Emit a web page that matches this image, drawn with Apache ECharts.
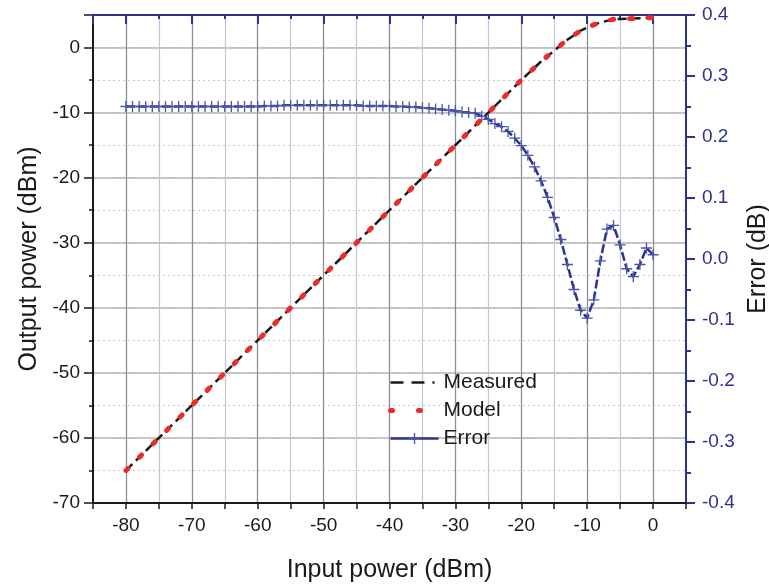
<!DOCTYPE html>
<html>
<head>
<meta charset="utf-8">
<script src="https://cdn.jsdelivr.net/npm/echarts@6/dist/echarts.min.js"></script>
<style>
  html, body { margin: 0; padding: 0; background: #fff; overflow: hidden; }
  #chart { width: 769px; height: 585px; }
</style>
</head>
<body>
<div id="chart"></div>
<script>
// Input power (dBm), 1 dB steps
const inputPower = [
  -80,-79,-78,-77,-76,-75,-74,-73,-72,-71,-70,-69,-68,-67,-66,-65,-64,-63,-62,-61,
  -60,-59,-58,-57,-56,-55,-54,-53,-52,-51,-50,-49,-48,-47,-46,-45,-44,-43,-42,-41,
  -40,-39,-38,-37,-36,-35,-34,-33,-32,-31,-30,-29,-28,-27,-26,-25,-24,-23,-22,-21,
  -20,-19,-18,-17,-16,-15,-14,-13,-12,-11,-10,-9,-8,-7,-6,-5,-4,-3,-2,-1,0
];
// Measured output power (dBm)
const measured = [
  -65,-64,-63,-62,-61,-60,-59,-58,-57,-56,-55,-54,-53,-52,-51,-50,-49,-48,-47,-46,
  -45,-44,-43,-42,-41,-40,-39,-38,-37,-36,-35,-34,-33,-32,-31,-30,-29,-28,-27,-26,
  -25,-24,-23,-22,-21,-20,-19,-18,-17,-16,-15,-14,-13,-12,-11,-10,-9,-8,-7,-6,
  -5.0,-4.05,-3.1,-2.15,-1.3,-0.5,0.4,1.2,1.9,2.6,3.05,3.5,3.85,4.1,4.35,4.4,4.42,4.45,4.5,4.55,4.6
];
// Model output power (dBm)
const model = [
  -65,-64,-63,-62,-61,-60,-59,-58,-57,-56,-55,-54,-53,-52,-51,-50,-49,-48,-47,-46,
  -45,-44,-43,-42,-41,-40,-39,-38,-37,-36,-35,-34,-33,-32,-31,-30,-29,-28,-27,-26,
  -25,-24,-23,-22,-21,-20,-19,-18,-17,-16,-15,-14,-13,-12,-11,-10,-9,-8,-7,-6,
  -5.0,-4.05,-3.1,-2.15,-1.3,-0.5,0.4,1.2,1.9,2.6,3.05,3.5,3.85,4.1,4.35,4.4,4.42,4.45,4.5,4.55,4.6
];
// Error (dB)
const errorDb = [
  0.250,0.250,0.250,0.250,0.250,0.250,0.250,0.250,0.250,0.250,0.250,0.250,0.250,0.250,0.250,0.250,0.250,0.250,0.250,0.250,
  0.250,0.251,0.251,0.251,0.252,0.252,0.252,0.252,0.252,0.252,0.252,0.252,0.252,0.252,0.252,0.252,0.251,0.251,0.251,0.251,
  0.251,0.250,0.250,0.249,0.249,0.248,0.247,0.246,0.245,0.244,0.243,0.241,0.240,0.239,0.234,0.229,0.222,0.217,0.209,0.198,
  0.186,0.170,0.151,0.128,0.101,0.068,0.032,-0.009,-0.050,-0.084,-0.097,-0.067,-0.003,0.049,0.055,0.023,-0.016,-0.029,-0.009,0.018,0.007
];
const seriesNames = ['Measured', 'Model', 'Error'];

const FONT = 'Liberation Sans, Arial, Helvetica, sans-serif';
const BLUE = '#2e3192';
const pairs = (xs, ys) => xs.map((x, i) => [x, ys[i]]);
const plusPath = 'path://M4.85,0H6.15V4.85H11V6.15H6.15V11H4.85V6.15H0V4.85H4.85Z';

const chart = echarts.init(document.getElementById('chart'), null, { renderer: 'canvas', width: 769, height: 585 });
const hideEdgeX = v => (v < -80 || v > 0) ? '' : String(v);
const hideEdgeY = v => (v > 0) ? '' : String(v);

const option = {
  backgroundColor: '#ffffff',
  animation: false,
  grid: { left: 93, right: 83, top: 15, bottom: 82, containLabel: false, outerBoundsMode: 'none' },
  legend: {
    orient: 'vertical',
    left: 383, top: 367,
    itemWidth: 48, itemHeight: 14, itemGap: 7,
    textStyle: { fontFamily: FONT, fontSize: 21, color: '#1a1a1a' },
    data: [
      { name: seriesNames[0], itemStyle: { opacity: 0 }, lineStyle: { color: '#1a1a1a', width: 2.5, type: [13, 8, 13, 8, 2, 40] } },
      { name: seriesNames[1], itemStyle: { opacity: 0 }, lineStyle: { color: '#ee2b2b', width: 5, type: [2, 26, 2, 100], cap: 'round' } },
      { name: seriesNames[2], lineStyle: { color: BLUE, width: 2.5, type: 'solid' } }
    ]
  },
  xAxis: [
    { // bottom minor
      type: 'value', position: 'bottom', min: -85, max: 5, minInterval: 5, maxInterval: 5,
      axisLine: { show: true, onZero: false, lineStyle: { color: '#1a1a1a', width: 2 } },
      axisTick: { show: true, inside: false, length: 6, lineStyle: { color: '#1a1a1a', width: 1.5 } },
      axisLabel: { show: false },
      splitLine: { show: true, showMinLine: false, showMaxLine: false, lineStyle: { color: '#c3c6d6', width: 1.2 } },
      name: 'Input power (dBm)', nameLocation: 'middle', nameGap: 55,
      nameTextStyle: { fontFamily: FONT, fontSize: 25, color: '#1a1a1a' }
    },
    { // bottom major
      type: 'value', position: 'bottom', min: -85, max: 5, minInterval: 10, maxInterval: 10,
      axisLine: { show: false, onZero: false },
      axisTick: { show: false },
      axisLabel: { show: true, margin: 13, formatter: hideEdgeX, fontFamily: FONT, fontSize: 19, color: '#1a1a1a' },
      splitLine: { show: true, showMinLine: false, showMaxLine: false, lineStyle: { color: '#8d8f94', width: 1.2 } }
    },
    { // top minor
      type: 'value', position: 'top', min: -85, max: 5, minInterval: 5, maxInterval: 5,
      axisLine: { show: true, onZero: false, lineStyle: { color: BLUE, width: 2 } },
      axisTick: { show: true, inside: true, length: 4, lineStyle: { color: BLUE, width: 2 } },
      axisLabel: { show: false }, splitLine: { show: false }
    },
    { // top major
      type: 'value', position: 'top', min: -85, max: 5, minInterval: 10, maxInterval: 10,
      axisLine: { show: false, onZero: false },
      axisTick: { show: true, inside: true, length: 9, lineStyle: { color: BLUE, width: 2 } },
      axisLabel: { show: false }, splitLine: { show: false }
    }
  ],
  yAxis: [
    { // left minor
      type: 'value', position: 'left', min: -70, max: 5, minInterval: 5, maxInterval: 5,
      axisLine: { show: false, onZero: false },
      axisTick: { show: true, inside: false, length: 4, lineStyle: { color: '#1a1a1a', width: 1.5 } },
      axisLabel: { show: false },
      splitLine: { show: true, showMinLine: false, showMaxLine: false, lineStyle: { color: '#c8c8c8', width: 1, type: [2, 3] } }
    },
    { // left major
      type: 'value', position: 'left', min: -70, max: 5, minInterval: 10, maxInterval: 10,
      axisLine: { show: true, onZero: false, lineStyle: { color: '#1a1a1a', width: 2 } },
      axisTick: { show: true, inside: false, length: 9, lineStyle: { color: '#1a1a1a', width: 1.5 } },
      axisLabel: { show: true, margin: 13, formatter: hideEdgeY, fontFamily: FONT, fontSize: 19, color: '#1a1a1a' },
      splitLine: { show: true, showMinLine: false, showMaxLine: false, lineStyle: { color: '#b4b6ba', width: 1.5 } },
      name: 'Output power (dBm)', nameLocation: 'middle', nameGap: 50,
      nameTextStyle: { fontFamily: FONT, fontSize: 25, color: '#1a1a1a' }
    },
    { // right error axis
      type: 'value', position: 'right', min: -0.4, max: 0.4, interval: 0.1,
      axisLine: { show: true, onZero: false, lineStyle: { color: BLUE, width: 2 } },
      axisTick: { show: true, inside: false, length: 9, lineStyle: { color: BLUE, width: 2 } },
      minorTick: { show: true, splitNumber: 2, length: 5, lineStyle: { color: BLUE, width: 2 } },
      axisLabel: { show: true, margin: 16, formatter: v => v.toFixed(1), fontFamily: FONT, fontSize: 19, color: BLUE },
      splitLine: { show: false },
      name: 'Error (dB)', nameLocation: 'middle', nameGap: 58, nameRotate: 90,
      nameTextStyle: { fontFamily: FONT, fontSize: 25, color: '#1a1a1a' }
    }
  ],
  series: [
    {
      name: seriesNames[0], type: 'line', xAxisIndex: 0, yAxisIndex: 1,
      data: pairs(inputPower, measured), symbol: 'none', z: 3,
      itemStyle: { color: '#1a1a1a' },
      lineStyle: { color: '#1a1a1a', width: 2.5, type: [9, 5] }
    },
    {
      name: seriesNames[1], type: 'line', xAxisIndex: 0, yAxisIndex: 1,
      data: pairs(inputPower, model), symbol: 'none', z: 4,
      itemStyle: { color: '#ee2b2b' },
      lineStyle: { color: '#ee2b2b', width: 5, type: [3, 16], cap: 'round' }
    },
    {
      name: seriesNames[2], type: 'line', xAxisIndex: 0, yAxisIndex: 2,
      data: pairs(inputPower, errorDb), symbol: plusPath, symbolSize: 11, z: 5,
      itemStyle: { color: '#4a55a6' },
      lineStyle: { color: BLUE, width: 2.5, type: [9, 3] }
    }
  ]
};
chart.setOption(option);
</script>
</body>
</html>
